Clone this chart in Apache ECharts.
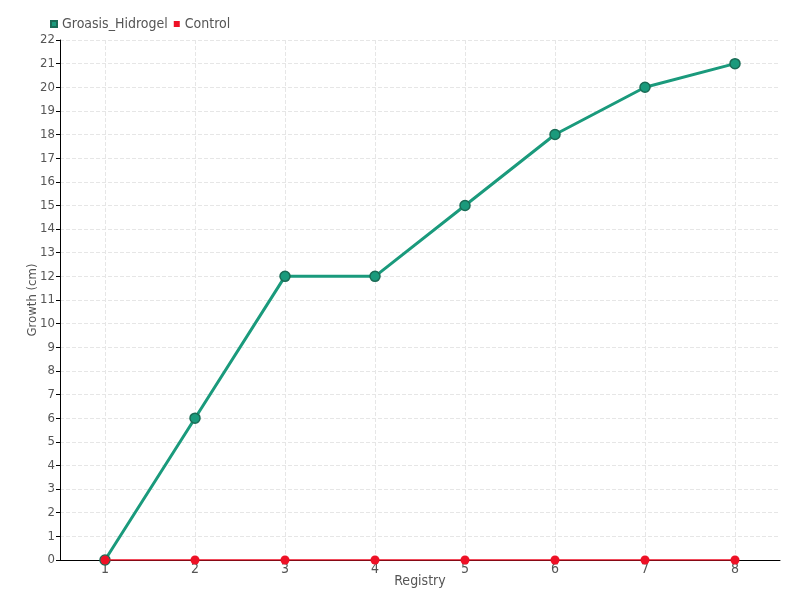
<!DOCTYPE html>
<html>
<head>
<meta charset="utf-8">
<script src="https://cdn.jsdelivr.net/npm/echarts@6/dist/echarts.min.js"></script>
<style>
  html, body { margin: 0; padding: 0; background: #fff; }
  #chart { width: 800px; height: 600px; }
</style>
</head>
<body>
<div id="chart"></div>
<script>
// registry numbers on the x axis
const registry = ['1', '2', '3', '4', '5', '6', '7', '8'];
// growth in cm
const groasis = [0, 6, 12, 12, 15, 18, 20, 21];
const control = [0, 0, 0, 0, 0, 0, 0, 0];

const font = '"DejaVu Sans Condensed", "Liberation Sans Narrow", sans-serif';

const chart = echarts.init(document.getElementById('chart'));
chart.setOption({
  textStyle: { fontFamily: font },
  animation: false,
  legend: {
    left: 45,
    top: 12,
    itemWidth: 6,
    itemHeight: 6,
    itemGap: 6,
    icon: 'rect',
    textStyle: { fontFamily: font, fontSize: 14, color: '#555' },
    data: ['Groasis_Hidrogel', 'Control']
  },
  grid: { left: 60, right: 20, top: 40, bottom: 40 },
  xAxis: {
    type: 'category',
    data: registry,
    name: 'Registry',
    nameLocation: 'middle',
    nameGap: 14,
    nameMoveOverlap: false,
    nameTextStyle: { fontFamily: font, fontSize: 14, color: '#555' },
    axisLine: { lineStyle: { color: '#000' } },
    axisTick: { alignWithLabel: true, length: 3 },
    axisLabel: { fontFamily: font, fontSize: 14, color: '#555', margin: 2 },
    splitLine: { show: true, alignWithLabel: true, lineStyle: { type: 'dashed', color: '#e6e6e6' } }
  },
  yAxis: {
    type: 'value',
    min: 0,
    max: 22,
    interval: 1,
    name: 'Growth (cm)',
    nameLocation: 'middle',
    nameGap: 21,
    nameMoveOverlap: false,
    nameTextStyle: { fontFamily: font, fontSize: 13, color: '#555' },
    axisLine: { show: true, lineStyle: { color: '#000' } },
    axisTick: { show: true, length: 4, lineStyle: { color: '#000' } },
    axisLabel: { fontFamily: font, fontSize: 13, color: '#555', margin: 5 },
    splitLine: { lineStyle: { type: 'dashed', color: '#e6e6e6' } }
  },
  series: [
    {
      name: 'Groasis_Hidrogel',
      type: 'line',
      data: groasis,
      symbol: 'circle',
      symbolSize: 10,
      color: '#1a9a7c',
      lineStyle: { width: 3, color: '#1a9a7c' },
      itemStyle: { color: '#1a9a7c', borderColor: '#1a6b55', borderWidth: 1.5 },
      z: 2
    },
    {
      name: 'Control',
      type: 'line',
      data: control,
      symbol: 'circle',
      symbolSize: 9,
      color: '#ee1126',
      lineStyle: { width: 1.5, color: '#ee1126' },
      itemStyle: { color: '#ee1126' },
      z: 3
    }
  ]
});
</script>
</body>
</html>
